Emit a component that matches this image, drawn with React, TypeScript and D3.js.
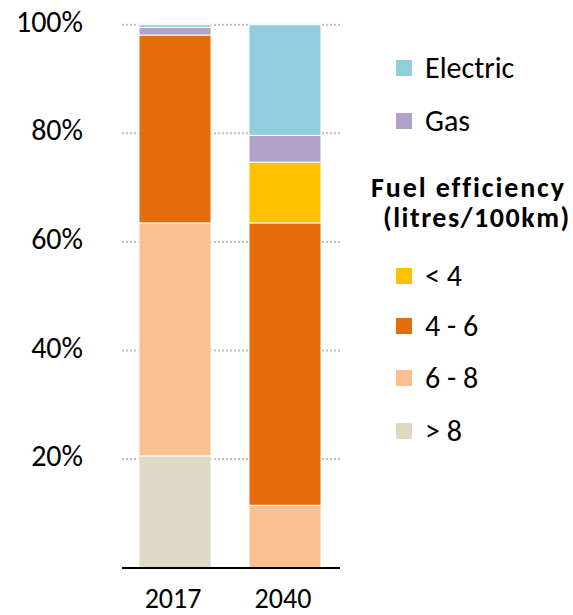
import React from "react";
import * as d3 from "d3";

const years = ["2017", "2040"];
const seriesKeys = ["gt8", "s6to8", "s4to6", "lt4", "gas", "electric"];
const seriesLabels = ["> 8", "6 - 8", "4 - 6", "< 4", "Gas", "Electric"];
const seriesColors = ["#DDD9C4", "#FAC090", "#E46C0A", "#FFC000", "#B3A2C7", "#92CDDC"];
const values2017 = [20.6, 42.9, 34.6, 0, 1.4, 0.5];
const values2040 = [0, 11.5, 52.0, 11.2, 4.9, 20.4];
const yTicks = [20, 40, 60, 80, 100];

const W = 573;
const H = 615;
const FONT = "Carlito, Lato, 'Open Sans', sans-serif";

export default function App() {
  const rows = years.map((y, i) => {
    const vals = i === 0 ? values2017 : values2040;
    const o: any = { year: y };
    seriesKeys.forEach((k, j) => (o[k] = vals[j]));
    return o;
  });
  const stack = d3.stack().keys(seriesKeys)(rows);
  const x = d3.scaleBand().domain(years).range([120, 340]).paddingInner(0.345).paddingOuter(0.1727);
  const y = d3.scaleLinear().domain([0, 100]).range([567.7, 24.7]);

  const legend = [
    { key: "electric", y: 60 },
    { key: "gas", y: 113 },
    { key: "lt4", y: 268 },
    { key: "s4to6", y: 318 },
    { key: "s6to8", y: 370 },
    { key: "gt8", y: 423 },
  ];
  const idx = (k: string) => seriesKeys.indexOf(k);

  return (
    <svg width={W} height={H} style={{ position: "absolute", left: 0, top: 0 }} fontFamily={FONT}>
      <rect width={W} height={H} fill="#fff" />
      {yTicks.map((t) => (
        <line key={t} x1={122} x2={340} y1={y(t)} y2={y(t)} stroke="#BFBFBF" strokeWidth={2} strokeDasharray="2 2" />
      ))}
      {yTicks.map((t) => (
        <text key={"l" + t} x={83} y={y(t) + 7} textAnchor="end" fontSize={30} fill="#000">
          {t}%
        </text>
      ))}
      {stack.map((s, si) =>
        s.map((d, di) =>
          d[1] - d[0] > 0 ? (
            <rect
              key={si + "-" + di}
              x={x(years[di])}
              width={x.bandwidth()}
              y={y(d[1])}
              height={y(d[0]) - y(d[1])}
              fill={seriesColors[si]}
              stroke="#fff"
              strokeWidth={1}
            />
          ) : null
        )
      )}
      <line x1={122} x2={340} y1={568} y2={568} stroke="#000" strokeWidth={2} />
      {years.map((yr) => (
        <text key={yr} x={(x(yr) as number) + x.bandwidth() / 2 - 2} y={608} textAnchor="middle" fontSize={28} fill="#000">
          {yr}
        </text>
      ))}
      {legend.map((l) => (
        <g key={l.key}>
          <rect x={396} y={l.y} width={16} height={16} fill={seriesColors[idx(l.key)]} />
          <text x={425} y={l.y + 18} fontSize={30} fill="#000">
            {seriesLabels[idx(l.key)]}
          </text>
        </g>
      ))}
      <text x={371} y={197} fontSize={28} fontWeight="bold" fill="#000" letterSpacing={1.9}>
        Fuel efficiency
      </text>
      <text x={383} y={227} fontSize={28} fontWeight="bold" fill="#000" letterSpacing={1.5}>
        (litres/100km)
      </text>
    </svg>
  );
}
